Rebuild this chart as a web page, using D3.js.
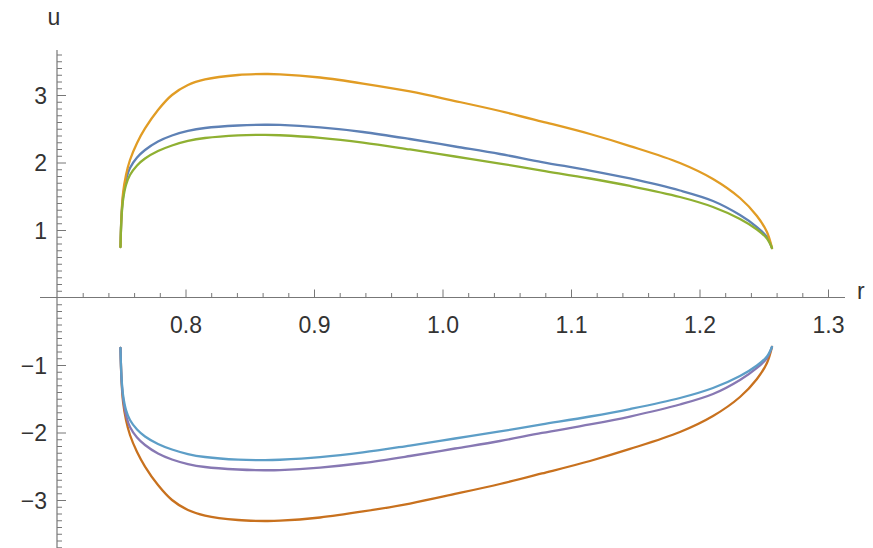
<!DOCTYPE html>
<html>
<head>
<meta charset="utf-8">
<script src="https://cdn.jsdelivr.net/npm/d3@7"></script>
<style>
  html, body { margin: 0; padding: 0; background: #fff; }
  svg { display: block; }
  text { font-family: "Liberation Sans", Arial, sans-serif; fill: #333; }
</style>
</head>
<body>
<svg id="chart" width="873" height="548"></svg>
<script>
// radial coordinate grid shared by every branch
const rGrid = [0.7494, 0.7502, 0.7514, 0.7537, 0.7568, 0.7623, 0.7685, 0.7786, 0.7895, 0.8019,
  0.8152, 0.8409, 0.8619, 0.8735, 0.9047, 0.9381, 0.9747, 1.0097, 1.0447, 1.0774,
  1.1148, 1.1459, 1.1848, 1.2105, 1.2315, 1.2447, 1.2525, 1.2564];

// upper branches (u > 0)
const uBlue = [0.748, 1.207, 1.489, 1.741, 1.919, 2.074, 2.185, 2.311, 2.400, 2.467,
  2.511, 2.548, 2.559, 2.556, 2.519, 2.452, 2.348, 2.237, 2.126, 2.007,
  1.881, 1.763, 1.585, 1.430, 1.222, 1.044, 0.896, 0.733];
const uOrange = [0.748, 1.222, 1.548, 1.815, 2.037, 2.289, 2.504, 2.778, 3.000, 3.148,
  3.230, 3.296, 3.311, 3.307, 3.259, 3.170, 3.052, 2.911, 2.763, 2.607,
  2.422, 2.244, 1.993, 1.756, 1.474, 1.207, 0.970, 0.733];
const uGreen = [0.748, 1.178, 1.444, 1.667, 1.815, 1.956, 2.059, 2.170, 2.252, 2.319,
  2.363, 2.403, 2.410, 2.404, 2.366, 2.296, 2.193, 2.089, 1.985, 1.881,
  1.763, 1.652, 1.489, 1.341, 1.163, 1.007, 0.874, 0.733];

// lower branches (u < 0)
const uBrown = [-0.748, -1.222, -1.548, -1.815, -2.037, -2.289, -2.504, -2.778, -3.000, -3.148,
  -3.230, -3.296, -3.311, -3.307, -3.259, -3.170, -3.052, -2.911, -2.763, -2.607,
  -2.422, -2.244, -1.993, -1.756, -1.474, -1.207, -0.970, -0.733];
const uPurple = [-0.748, -1.207, -1.489, -1.741, -1.919, -2.074, -2.185, -2.311, -2.400, -2.467,
  -2.511, -2.548, -2.559, -2.556, -2.519, -2.452, -2.348, -2.237, -2.126, -2.007,
  -1.881, -1.763, -1.585, -1.430, -1.222, -1.044, -0.896, -0.733];
const uCyan = [-0.748, -1.178, -1.444, -1.667, -1.815, -1.956, -2.059, -2.170, -2.252, -2.319,
  -2.363, -2.403, -2.410, -2.404, -2.366, -2.296, -2.193, -2.089, -1.985, -1.881,
  -1.763, -1.652, -1.489, -1.341, -1.163, -1.007, -0.874, -0.733];

const seriesList = [
  { values: uBlue,   color: "#5e81b5" },
  { values: uOrange, color: "#e19c24" },
  { values: uGreen,  color: "#8fb032" },
  { values: uBrown,  color: "#c8711e" },
  { values: uPurple, color: "#8778b3" },
  { values: uCyan,   color: "#5d9ec7" }
];

const xMajor = [0.8, 0.9, 1.0, 1.1, 1.2, 1.3];
const yMajor = [-3, -2, -1, 1, 2, 3];

const svg = d3.select("#chart");
const x = d3.scaleLinear().domain([0.7, 1.3]).range([57, 828]);
const y = d3.scaleLinear().domain([3, -3]).range([95, 500]);

// minor tick positions
const xMinor = d3.range(36, 66).map(i => i / 50).filter(v => v > 0.7 && v < 1.31 && Math.abs(v * 10 - Math.round(v * 10)) > 1e-6);
const yMinor = d3.range(-37, 37).map(i => i / 10).filter(v => Math.abs(v - Math.round(v)) > 1e-6);

const axisColor = "#777";

// horizontal axis
const gx = svg.append("g").attr("transform", `translate(0,${y(0)})`);
gx.call(d3.axisBottom(x).tickValues(xMinor).tickSizeInner(-4.5).tickSizeOuter(0).tickFormat(""));
gx.call(g => g.select(".domain").remove());
const gxMaj = svg.append("g").attr("transform", `translate(0,${y(0)})`);
gxMaj.call(d3.axisBottom(x).tickValues(xMajor).tickSizeInner(-8).tickSizeOuter(0).tickFormat(d3.format(".1f")).tickPadding(0));
gxMaj.select(".domain").remove();
gxMaj.selectAll("text").attr("dy", null).attr("y", 35).attr("font-size", 23)
  .attr("font-family", "'Liberation Sans', Arial, sans-serif").attr("fill", "#333");
svg.selectAll("g .tick line").attr("stroke", axisColor);
svg.append("line").attr("x1", 40).attr("x2", 845).attr("y1", y(0)).attr("y2", y(0))
  .attr("stroke", axisColor).attr("stroke-width", 1.2);

// vertical axis
const gy = svg.append("g").attr("transform", `translate(${x(0.7)},0)`);
gy.call(d3.axisRight(y).tickValues(yMinor).tickSizeInner(5).tickSizeOuter(0).tickFormat(""));
gy.select(".domain").remove();
const gyMaj = svg.append("g").attr("transform", `translate(${x(0.7)},0)`);
gyMaj.call(d3.axisRight(y).tickValues(yMajor).tickSizeInner(9).tickSizeOuter(0).tickFormat(d3.format("d")));
gyMaj.select(".domain").remove();
gyMaj.selectAll("text").attr("text-anchor", "end").attr("x", -10).attr("dy", "0.35em")
  .attr("font-size", 23).attr("font-family", "'Liberation Sans', Arial, sans-serif").attr("fill", "#333");
svg.selectAll("g .tick line").attr("stroke", axisColor);
svg.append("line").attr("x1", x(0.7)).attr("x2", x(0.7)).attr("y1", 50).attr("y2", 548)
  .attr("stroke", axisColor).attr("stroke-width", 1.2);

// axis names
svg.append("text").attr("x", 54).attr("y", 25).attr("text-anchor", "middle").attr("font-size", 23).text("u");
svg.append("text").attr("x", 857).attr("y", 299).attr("font-size", 23).text("r");

// curves
const line = d3.line()
  .x((d, i) => x(rGrid[i]))
  .y(d => y(d))
  .curve(d3.curveCatmullRom.alpha(0.5));

svg.append("g").selectAll("path")
  .data(seriesList)
  .join("path")
  .attr("d", s => line(s.values))
  .attr("fill", "none")
  .attr("stroke", s => s.color)
  .attr("stroke-width", 2.3)
  .attr("stroke-linejoin", "round")
  .attr("stroke-linecap", "round");
</script>
</body>
</html>
